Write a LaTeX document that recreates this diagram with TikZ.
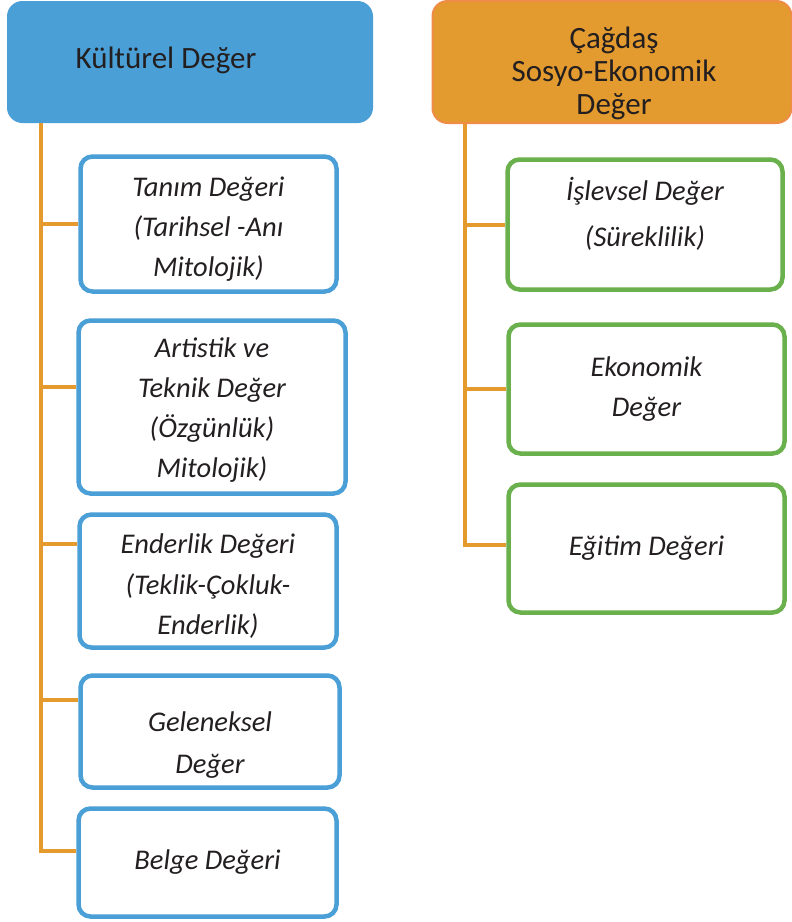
\documentclass[tikz,border=0pt]{standalone}
\usepackage{fontspec}
\setmainfont{Carlito}
\usetikzlibrary{positioning}
\definecolor{kblue}{HTML}{4A9FD6}
\definecolor{korange}{HTML}{E39A2E}
\definecolor{kedge}{HTML}{EE8C48}
\definecolor{kline}{HTML}{E59A2D}
\definecolor{kgreen}{HTML}{6AB04C}
\definecolor{ktext}{HTML}{231F20}

\begin{document}
\begin{tikzpicture}[x=1pt, y=-1pt,
    header/.style={rectangle, rounded corners=15pt},
    headtext/.style={text=ktext, font=\fontsize{31}{33}\selectfont, align=center},
    valbox/.style={draw, rectangle, rounded corners=12pt, line width=4.5pt, fill=white, text=ktext,
        font=\fontsize{28.5}{40}\selectfont\itshape, align=center},
    blueval/.style={valbox, draw=kblue},
    greenval/.style={valbox, draw=kgreen},
    branch/.style={draw=kline, line width=4pt}]

        \useasboundingbox[fill=white] (0,0) rectangle (792,922);

        % Headers
        \node[header, fill=kblue, draw=kblue, line width=1pt, minimum width=365pt, minimum height=121pt] (kultur) at (190,62) {};
        \node[headtext] (kulturtext) at (166,60) {Kültürel Değer};
        \node[header, fill=korange, draw=kedge, line width=2pt, minimum width=359pt, minimum height=122pt] (cagdas) at (612,62) {};
        \node[headtext] (cagdastext) at (614,73) {Çağdaş\\Sosyo-Ekonomik\\Değer};

        % Left column
        \node[blueval, minimum width=256pt, minimum height=135pt] (tanim) at (208.5,224) {\rule{0pt}{30pt}Tanım Değeri\\(Tarihsel -Anı\\Mitolojik)};
        \node[blueval, minimum width=267pt, minimum height=173pt] (artistik) at (212,407) {\rule{0pt}{26pt}Artistik ve\\Teknik Değer\\(Özgünlük)\\Mitolojik)};
        \node[blueval, minimum width=257pt, minimum height=133pt] (enderlik) at (208,581) {\rule{0pt}{30pt}Enderlik Değeri\\[1pt](Teklik-Çokluk-\\Enderlik)};
        \node[blueval, minimum width=259pt, minimum height=112pt] (geleneksel) at (210,731.5) {\rule{0pt}{46pt}Geleneksel\\[2pt]Değer};
        \node[blueval, minimum width=258pt, minimum height=108pt] (belge) at (207.5,862.5) {Belge Değeri};

        % Right column
        \node[greenval, minimum width=275pt, minimum height=130pt, font=\fontsize{28.5}{46}\selectfont\itshape] (islevsel) at (645,224.5) {İşlevsel Değer\\(Süreklilik)\rule[-25pt]{0pt}{0pt}};
        \node[greenval, minimum width=276pt, minimum height=129pt] (ekonomik) at (646.5,389) {Ekonomik\\Değer};
        \node[greenval, minimum width=276pt, minimum height=128pt] (egitim) at (646.5,548.5) {Eğitim Değeri};

        % Connectors
        \coordinate (ktrunk) at ([xshift=34pt]kultur.south west);
        \coordinate (ctrunk) at ([xshift=33pt]cagdas.south west);
        \draw[branch] (ktrunk) |- (tanim.west);
        \draw[branch] (ktrunk) |- ([yshift=20pt]artistik.west);
        \draw[branch] (ktrunk) |- ([yshift=37pt]enderlik.west);
        \draw[branch] (ktrunk) |- ([yshift=31.5pt]geleneksel.west);
        \draw[branch] (ktrunk) |- ([yshift=11.5pt]belge.west);
        \draw[branch] (ctrunk) |- (islevsel.west);
        \draw[branch] (ctrunk) |- (ekonomik.west);
        \draw[branch] (ctrunk) |- ([yshift=3.5pt]egitim.west);

\end{tikzpicture}
\end{document}
